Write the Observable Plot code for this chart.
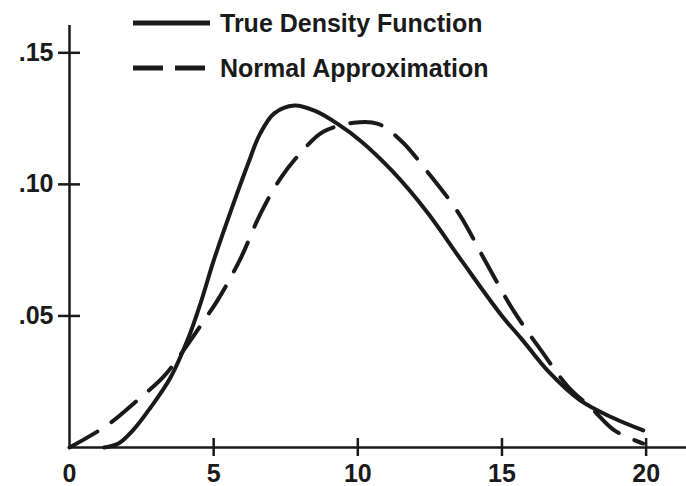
<!DOCTYPE html>
<html>
<head>
<meta charset="utf-8">
<script src="https://cdn.jsdelivr.net/npm/d3@7"></script>
<script src="https://cdn.jsdelivr.net/npm/@observablehq/plot@0.6"></script>
<style>
  html, body { margin: 0; padding: 0; background: #fff; }
  #wrap { position: relative; width: 686px; height: 486px; font-family: "Liberation Sans", Arial, sans-serif; }
  #legend { position: absolute; left: 133px; top: 4px; font-weight: bold; font-size: 25px; color: #1a1a1a; }
  .row { display: flex; align-items: center; height: 38px; margin-bottom: 7px; }
  .row svg { margin-right: 10px; }
</style>
</head>
<body>
<div id="wrap"></div>
<script>
// True density function
const trueX = [1.2, 1.7, 2.2, 2.8, 3.5, 4.1, 4.55, 5.0, 5.6, 6.2, 6.6, 7.1, 7.8, 8.5, 9.3, 10.1, 11.2, 12.4, 13.6, 15.0, 15.7, 16.6, 17.7, 18.9, 19.9];
const trueY = [0, 0.0015, 0.0065, 0.015, 0.0265, 0.041, 0.055, 0.071, 0.090, 0.108, 0.119, 0.127, 0.130, 0.128, 0.123, 0.1165, 0.105, 0.0895, 0.071, 0.050, 0.041, 0.029, 0.018, 0.011, 0.0065];
// Normal approximation
const normX = [0, 1.3, 2.36, 3.27, 3.96, 4.65, 5.14, 5.94, 6.63, 7.33, 8.1, 8.8, 9.86, 10.7, 11.5, 12.4, 13.5, 14.44, 15.4, 16.35, 17.3, 18.1, 18.9, 19.9];
const normY = [0, 0.0084, 0.018, 0.027, 0.037, 0.048, 0.056, 0.072, 0.089, 0.1025, 0.113, 0.120, 0.1234, 0.123, 0.1166, 0.105, 0.089, 0.0705, 0.052, 0.037, 0.023, 0.015, 0.0065, 0.0015];

const xTicks = [5, 10, 15, 20];
const xLabelVals = [0, 5, 10, 15, 20];
const yTicks = [0.05, 0.10, 0.15];
const yLabels = [".05", ".10", ".15"];
const seriesNames = ["True Density Function", "Normal Approximation"];

const trueData = trueX.map((x, i) => ({x, y: trueY[i]}));
const normData = normX.map((x, i) => ({x, y: normY[i]}));

const ink = "#1a1a1a";
const font = "Liberation Sans, Arial, sans-serif";

const chart = Plot.plot({
  width: 686,
  height: 486,
  marginLeft: 69,
  marginRight: 0,
  marginTop: 26,
  marginBottom: 39,
  style: {fontFamily: font, background: "#fff", color: ink},
  x: {domain: [0, 21.4], label: null},
  y: {domain: [0, 0.16], label: null},
  marks: [
    Plot.line(normData, {x: "x", y: "y", stroke: ink, strokeWidth: 4, strokeDasharray: "32,17", curve: "catmull-rom"}),
    Plot.line(trueData, {x: "x", y: "y", stroke: ink, strokeWidth: 4, curve: "catmull-rom", strokeLinecap: "round"}),
    Plot.ruleY([0], {stroke: ink, strokeWidth: 2.5}),
    Plot.ruleX([0], {stroke: ink, strokeWidth: 2.5, insetTop: -1}),
    Plot.ruleX(xTicks, {x: d => d, y1: 0, y2: 0, insetTop: -9, insetBottom: -9, stroke: ink, strokeWidth: 2.5}),
    Plot.ruleY(yTicks, {y: d => d, x1: 0, x2: 0, insetLeft: -11, insetRight: -11, stroke: ink, strokeWidth: 2.5}),
    Plot.axisX({ticks: xLabelVals, tickSize: 0, tickPadding: 17, fontSize: 25, fontWeight: "bold", fill: ink, label: null, tickFormat: d => String(d)}),
    Plot.axisY({ticks: yTicks, tickSize: 0, tickPadding: 16, fontSize: 25, fontWeight: "bold", fill: ink, label: null, tickFormat: d => yLabels[yTicks.indexOf(d)]})
  ]
});

const wrap = document.getElementById("wrap");
wrap.appendChild(chart);

const legend = document.createElement("div");
legend.id = "legend";
legend.innerHTML = `
  <div class="row"><svg width="77" height="10"><line x1="0" y1="5" x2="77" y2="5" stroke="${ink}" stroke-width="5"/></svg><span>${seriesNames[0]}</span></div>
  <div class="row"><svg width="77" height="10"><line x1="0" y1="5" x2="77" y2="5" stroke="${ink}" stroke-width="5" stroke-dasharray="30,12"/></svg><span>${seriesNames[1]}</span></div>`;
wrap.appendChild(legend);
</script>
</body>
</html>
